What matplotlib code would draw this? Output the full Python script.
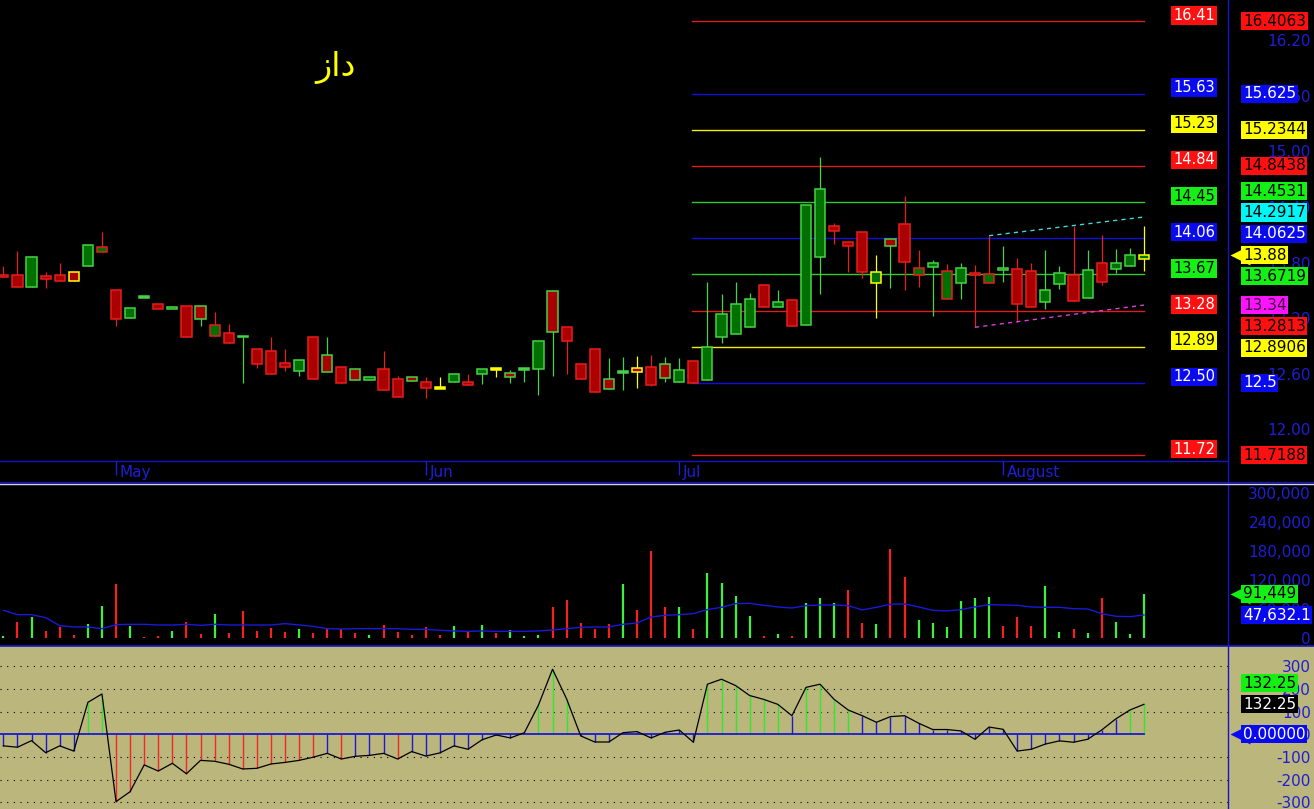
import numpy as np
import matplotlib
matplotlib.use("Agg")
import matplotlib.pyplot as plt
from matplotlib.lines import Line2D
from matplotlib.patches import Rectangle
from matplotlib.transforms import blended_transform_factory
from decimal import Decimal, ROUND_HALF_UP

plt.rcParams['font.family'] = ['DejaVu Sans']

symbol = "زاد"

# ---- daily candles ----
opens = [13.67, 13.67, 13.54, 13.65, 13.67, 13.70, 13.76, 13.91, 13.50, 13.20,
         13.43, 13.35, 13.31, 13.33, 13.33, 13.01, 13.04, 13.00, 12.86, 12.84,
         12.71, 12.63, 13.00, 12.80, 12.67, 12.65, 12.53, 12.65, 12.54, 12.56,
         12.51, 12.44, 12.51, 12.51, 12.60, 12.65, 12.61, 12.65, 12.65, 13.49,
         13.10, 12.70, 12.86, 12.54, 12.62, 12.66, 12.67, 12.70, 12.51, 12.74,
         12.53, 12.99, 13.03, 13.10, 13.56, 13.32, 13.40, 13.12, 13.86, 14.19,
         14.02, 14.13, 13.58, 14.05, 14.22, 13.66, 13.75, 13.41, 13.58, 13.70,
         13.58, 13.73, 13.73, 13.71, 13.37, 13.57, 13.67, 13.42, 13.79, 13.73,
         13.76, 13.84]
highs = [13.76, 13.92, 13.87, 13.70, 13.80, 13.70, 13.99, 14.13, 13.50, 13.31,
         13.43, 13.35, 13.33, 13.33, 13.33, 13.26, 13.14, 13.00, 12.86, 12.99,
         12.87, 12.75, 13.00, 13.00, 12.67, 12.65, 12.56, 12.84, 12.57, 12.56,
         12.56, 12.56, 12.60, 12.60, 12.65, 12.65, 12.64, 12.65, 12.95, 13.49,
         13.10, 12.70, 12.86, 12.77, 12.78, 12.79, 12.80, 12.78, 12.77, 12.74,
         13.59, 13.46, 13.59, 13.47, 13.56, 13.50, 13.40, 14.42, 14.94, 14.23,
         14.02, 14.13, 13.88, 14.05, 14.52, 13.94, 13.83, 13.78, 13.80, 13.77,
         14.09, 13.98, 13.85, 13.79, 13.94, 13.76, 14.20, 13.93, 14.10, 13.95,
         13.96, 14.20]
lows = [13.64, 13.54, 13.54, 13.53, 13.60, 13.60, 13.76, 13.91, 13.11, 13.20,
        13.43, 13.30, 13.31, 12.99, 13.11, 13.01, 12.93, 12.50, 12.66, 12.60,
        12.63, 12.57, 12.54, 12.62, 12.50, 12.53, 12.53, 12.42, 12.35, 12.52,
        12.34, 12.44, 12.51, 12.48, 12.49, 12.56, 12.50, 12.51, 12.37, 12.57,
        12.59, 12.54, 12.40, 12.43, 12.42, 12.44, 12.47, 12.51, 12.51, 12.50,
        12.53, 12.93, 13.03, 13.10, 13.32, 13.32, 13.11, 13.12, 13.46, 14.00,
        13.70, 13.63, 13.20, 13.53, 13.50, 13.54, 13.22, 13.41, 13.41, 13.10,
        13.58, 13.59, 13.16, 13.32, 13.30, 13.51, 13.38, 13.42, 13.56, 13.69,
        13.76, 13.71]
closes = [13.64, 13.54, 13.86, 13.62, 13.60, 13.60, 13.99, 13.97, 13.19, 13.31,
          13.43, 13.30, 13.33, 12.99, 13.19, 13.12, 12.93, 13.00, 12.70, 12.60,
          12.67, 12.75, 12.54, 12.62, 12.50, 12.53, 12.56, 12.42, 12.35, 12.52,
          12.44, 12.44, 12.60, 12.48, 12.65, 12.65, 12.56, 12.65, 12.95, 13.05,
          12.95, 12.54, 12.40, 12.43, 12.62, 12.62, 12.48, 12.55, 12.64, 12.50,
          12.89, 13.24, 13.35, 13.41, 13.32, 13.37, 13.11, 14.42, 14.59, 14.14,
          13.98, 13.70, 13.70, 13.98, 13.81, 13.74, 13.80, 13.71, 13.74, 13.68,
          13.68, 13.75, 13.35, 13.32, 13.50, 13.69, 13.38, 13.72, 13.59, 13.80,
          13.88, 13.88]
# day direction (up / down / unchanged) shown as candle outline
day_dir = ("rrgrrygrrg" "grgrgrrgrr" "rgrgrggrrg" "rygrgygggg" "rrrggyrggr"
           "ggggrgrggr" "rrygrrgrgr" "rgrrggrgrg" "gy")

# ---- volume ----
volume = [4000, 33000, 43500, 13800, 22800, 6200, 28300, 66200, 111000, 24800,
          2800, 4100, 13800, 33100, 8300, 49000, 10300, 55200, 14500, 20700,
          11700, 17900, 9700, 17900, 18600, 9700, 5500, 26900, 11700, 6200,
          22800, 5500, 24100, 14500, 26200, 9700, 15900, 4800, 6200, 64100,
          78000, 31000, 18600, 28300, 111000, 57300, 180000, 64100, 64100, 18600,
          134500, 113800, 86200, 45500, 4100, 7600, 4100, 71700, 82800, 71700,
          99300, 31000, 28300, 184100, 126900, 37200, 30300, 22800, 75800, 82800,
          84800, 24800, 43400, 24800, 106900, 11700, 18600, 9700, 82800, 33100,
          8300, 91449]
vol_dir = ("grgrrrggrg" "rrgrrgrrrr" "rgrrrrgrrr" "rrgrgrgggr" "rrrrgrrrgr"
           "ggggrgrggg" "rrgrrggggg" "grrrggrgrg" "gg")
vol_ma = [57300, 48300, 48300, 42100, 25500, 22800, 22800, 19300, 27600, 28300,
          28300, 26900, 26900, 28300, 26200, 28300, 26900, 26900, 26900, 26900,
          29700, 26900, 24100, 19300, 18600, 19300, 19300, 19300, 19300, 17900,
          17900, 15900, 14500, 13800, 14500, 13800, 13800, 13800, 14500, 16600,
          19300, 22100, 22800, 22800, 28300, 31000, 43500, 46900, 48300, 50400,
          58700, 63500, 71100, 71800, 67600, 64200, 62100, 66900, 68300, 68300,
          66900, 58000, 63500, 69700, 70400, 64200, 57300, 55900, 58700, 64200,
          69000, 68300, 67600, 64200, 63500, 63500, 60700, 60000, 50400, 44900,
          44200, 47632.1]

# ---- oscillator ----
osc = [-51, -57, -28, -81, -51, -74, 141, 178, -297, -253,
       -135, -162, -128, -174, -115, -119, -132, -153, -150, -131,
       -124, -115, -101, -84, -109, -97, -93, -84, -109, -76,
       -96, -82, -51, -66, -24, -3, -16, 7, 129, 287,
       156, -7, -34, -34, 7, 12, -16, 9, 19, -35,
       221, 243, 215, 171, 154, 132, 82, 207, 221, 154,
       107, 82, 53, 78, 82, 49, 21, 21, 15, -22,
       32, 22, -74, -66, -43, -29, -35, -22, 19, 68,
       107, 132.25]

month_names = ["May", "Jun", "Jul", "August"]
month_pos = [8, 30, 48, 71]

murrey_levels = [16.4063, 15.625, 15.2344, 14.8438, 14.4531, 14.0625,
                 13.6719, 13.2813, 12.8906, 12.5, 11.7188]
murrey_kind = ['red', 'blue', 'yellow', 'red', 'green', 'blue',
               'green', 'red', 'yellow', 'blue', 'red']
murrey_span = [48.9, 81]

trend_hi_x, trend_hi_y = [70, 81], [14.09, 14.2917]
trend_lo_x, trend_lo_y = [69, 81], [13.10, 13.34]

# ---- layout / colours ----
W, H = 1314, 809
AXR = 1228
X0, X1 = -0.24, 86.97

TXT_BLUE = '#1e1ed6'
FRAME = '#1414c8'
LINE_COL = {'red': '#dc1e1e', 'blue': '#1010dc', 'yellow': '#f0f000', 'green': '#32c832'}
BOX_COL = {'red': '#ff1010', 'blue': '#0a0af0', 'yellow': '#ffff00', 'green': '#14f014',
           'cyan': '#00f5f5', 'magenta': '#ff14ff', 'black': '#000000'}
LEFT_TXT = {'red': 'white', 'blue': 'white', 'yellow': 'black', 'green': 'black'}
RIGHT_TXT = {'red': 'black', 'blue': 'white', 'yellow': 'black', 'green': 'black',
             'cyan': 'black', 'magenta': '#3c003c', 'black': 'white'}
EDGE = {'g': '#46d246', 'r': '#e61e1e', 'y': '#ffff00'}
VOLC = {'g': '#3cf03c', 'r': '#f52020'}
KHAKI = '#bbb67c'
FS = 11


def px_rect(x0, y0, x1, y1):
    return [x0 / W, 1 - y1 / H, (x1 - x0) / W, (y1 - y0) / H]


def right_ticks(ax, ticks, labels):
    ax.set_yticks(ticks)
    ax.set_yticklabels(labels)
    ax.tick_params(axis='y', left=False, labelleft=False, right=False,
                   labelright=True, pad=(1311 - AXR) * 0.72, labelsize=FS,
                   labelcolor=TXT_BLUE, length=0)
    for t in ax.yaxis.get_major_ticks():
        t.label2.set_horizontalalignment('right')


def tag(ax, y, s, kind, arrow=False):
    tr = blended_transform_factory(ax.transAxes, ax.transData)
    ax.text(1243 / AXR, y, s, transform=tr, ha='left', va='center', fontsize=FS,
            color=RIGHT_TXT[kind], clip_on=False, zorder=10,
            bbox=dict(boxstyle='square,pad=0.1', fc=BOX_COL[kind], ec='none'))
    if arrow:
        ax.plot([1240 / AXR], [y], marker='<', ms=14.5, color=BOX_COL[kind],
                transform=tr, clip_on=False, zorder=9, mec='none')


def place_tags(ax, tags, anchor, gap):
    # stack labels away from the anchor value so they do not overlap
    av = tags[anchor][0]
    tag(ax, av, tags[anchor][1], tags[anchor][2], tags[anchor][3])
    rest = [t for k, t in enumerate(tags) if k != anchor]
    prev = av
    for v, s, kind, arr in sorted([t for t in rest if t[0] >= av], key=lambda t: t[0]):
        prev = max(v, prev + gap)
        tag(ax, prev, s, kind, arr)
    prev = av
    for v, s, kind, arr in sorted([t for t in rest if t[0] < av], key=lambda t: -t[0]):
        prev = min(v, prev - gap)
        tag(ax, prev, s, kind, arr)


fig = plt.figure(figsize=(W / 100, H / 100), dpi=100, facecolor='black')
fig.patches.append(Rectangle((0, 0), 1, 163 / H, transform=fig.transFigure,
                             color=KHAKI, zorder=-5))

ax_p = fig.add_axes(px_rect(0, 0, AXR, 461))
ax_d = fig.add_axes(px_rect(0, 461, AXR, 481))
ax_v = fig.add_axes(px_rect(0, 486, AXR, 645))
ax_o = fig.add_axes(px_rect(0, 646, AXR, 809))

for ax in (ax_p, ax_d, ax_v, ax_o):
    ax.set_xlim(X0, X1)
    ax.set_facecolor('black')
    for s in ax.spines.values():
        s.set_visible(False)
    ax.tick_params(axis='x', bottom=False, labelbottom=False)
ax_o.set_facecolor(KHAKI)

x = np.arange(len(opens))
O, Hh, L, C = map(np.array, (opens, highs, lows, closes))

# ---- price panel ----
ax_p.set_ylim(11.655, 16.637)
ppu = 461 / (16.637 - 11.655)
edges = [EDGE[d] for d in day_dir]
fills = [('#007000' if c > o else '#aa0000' if c < o else EDGE[d])
         for o, c, d in zip(opens, closes, day_dir)]
body_h = np.maximum(np.abs(C - O), 0.02)
body_b = np.where(np.abs(C - O) < 0.02, np.minimum(O, C) - 0.01, np.minimum(O, C))
ax_p.vlines(x, L, Hh, colors=edges, lw=0.9, zorder=3)
ax_p.bar(x, body_h, width=0.72, bottom=body_b, color=fills, edgecolor=edges,
         linewidth=1.1, zorder=4)

for lvl, kind in zip(murrey_levels, murrey_kind):
    ax_p.plot(murrey_span, [lvl, lvl], color=LINE_COL[kind], lw=1, zorder=2)
    left = Decimal(str(lvl)).quantize(Decimal('0.01'), ROUND_HALF_UP)
    ax_p.text(1194 / AXR, lvl + 6 / ppu, f"{left}", ha='center', va='center',
              transform=blended_transform_factory(ax_p.transAxes, ax_p.transData),
              fontsize=10.5, color=LEFT_TXT[kind], zorder=10,
              bbox=dict(boxstyle='square,pad=0.12', fc=BOX_COL[kind], ec='none'))

ax_p.plot(trend_hi_x, trend_hi_y, color='#40d8d8', lw=1, ls=(0, (3, 3)), zorder=5)
ax_p.plot(trend_lo_x, trend_lo_y, color='#d840d8', lw=1, ls=(0, (3, 3)), zorder=5)

ax_p.text(336 / AXR, 1 - 68 / 461, symbol, transform=ax_p.transAxes,
          color='#ffff00', fontsize=24, ha='center', va='center')

pt = np.arange(12.0, 16.25, 0.6)
right_ticks(ax_p, pt, [f"{v:.2f}" for v in pt])

fmt4 = lambda v: f"{v:.4f}".rstrip('0').rstrip('.')
price_tags = [(v, fmt4(v), k, False) for v, k in zip(murrey_levels, murrey_kind)]
price_tags += [(trend_hi_y[-1], fmt4(trend_hi_y[-1]), 'cyan', False),
               (trend_lo_y[-1], fmt4(trend_lo_y[-1]), 'magenta', False),
               (closes[-1], fmt4(closes[-1]), 'yellow', True)]
place_tags(ax_p, price_tags, len(price_tags) - 1, 21.3 / ppu)

# ---- month strip ----
ax_d.set_ylim(0, 1)
ax_d.set_yticks([])
ax_d.vlines(month_pos, 0.3, 1, color=TXT_BLUE, lw=1)
for p, m in zip(month_pos, month_names):
    ax_d.text(p + 0.25, 0.45, m, color=TXT_BLUE, fontsize=11, ha='left', va='center')

# ---- volume panel ----
ax_v.set_ylim(-14500, 314500)
vpu = 159 / (314500 + 14500)
ax_v.vlines(x, 0, volume, colors=[VOLC[d] for d in vol_dir], lw=1.6)
ax_v.plot(x, vol_ma, color='#1a1ad8', lw=1)
vt = np.arange(0, 300001, 60000)
right_ticks(ax_v, vt, [f"{v:,}" for v in vt])
vol_tags = [(volume[-1], f"{volume[-1]:,}", 'green', True),
            (vol_ma[-1], f"{vol_ma[-1]:,.1f}", 'blue', False)]
place_tags(ax_v, vol_tags, 0, 21.3 / vpu)

# ---- oscillator panel ----
ax_o.set_ylim(-329.5, 389.5)
opu = 163 / (389.5 + 329.5)
for g in (-300, -200, -100, 100, 200, 300):
    ax_o.axhline(g, color='black', lw=0.8, ls=(0, (1, 5)))
oc = ['#32e632' if v > 100 else '#f02828' if v < -100 else '#1a1ad2' for v in osc]
ax_o.vlines(x, 0, osc, colors=oc, lw=1)
ax_o.plot([X0, x[-1]], [0, 0], color='#1a1ad2', lw=1.3)
ax_o.plot(x, osc, color='black', lw=0.9)
ot = np.arange(-300, 301, 100)
right_ticks(ax_o, ot, [f"{v:.0f}" for v in ot])
osc_tags = [(osc[-1], f"{osc[-1]:.2f}", 'black', False),
            (osc[-1], f"{osc[-1]:.2f}", 'green', False),
            (0.0, f"{0:.5f}", 'blue', True)]
place_tags(ax_o, osc_tags, 0, 21 / opu)

# ---- frame lines ----
ft = fig.transFigure
fig.add_artist(Line2D([AXR / W] * 2, [0, 1], transform=ft, color=FRAME, lw=1))
fig.add_artist(Line2D([0, AXR / W], [1 - 461.5 / H] * 2, transform=ft, color=FRAME, lw=1))
fig.add_artist(Line2D([0, 1], [1 - 482.3 / H] * 2, transform=ft, color=FRAME, lw=1))
fig.add_artist(Line2D([0, 1], [1 - 483.8 / H] * 2, transform=ft, color='#d0d0ff', lw=1))
fig.add_artist(Line2D([0, 1], [1 - 645.5 / H] * 2, transform=ft, color=FRAME, lw=1.2))

fig.savefig("out.png", dpi=100, facecolor=fig.get_facecolor())
